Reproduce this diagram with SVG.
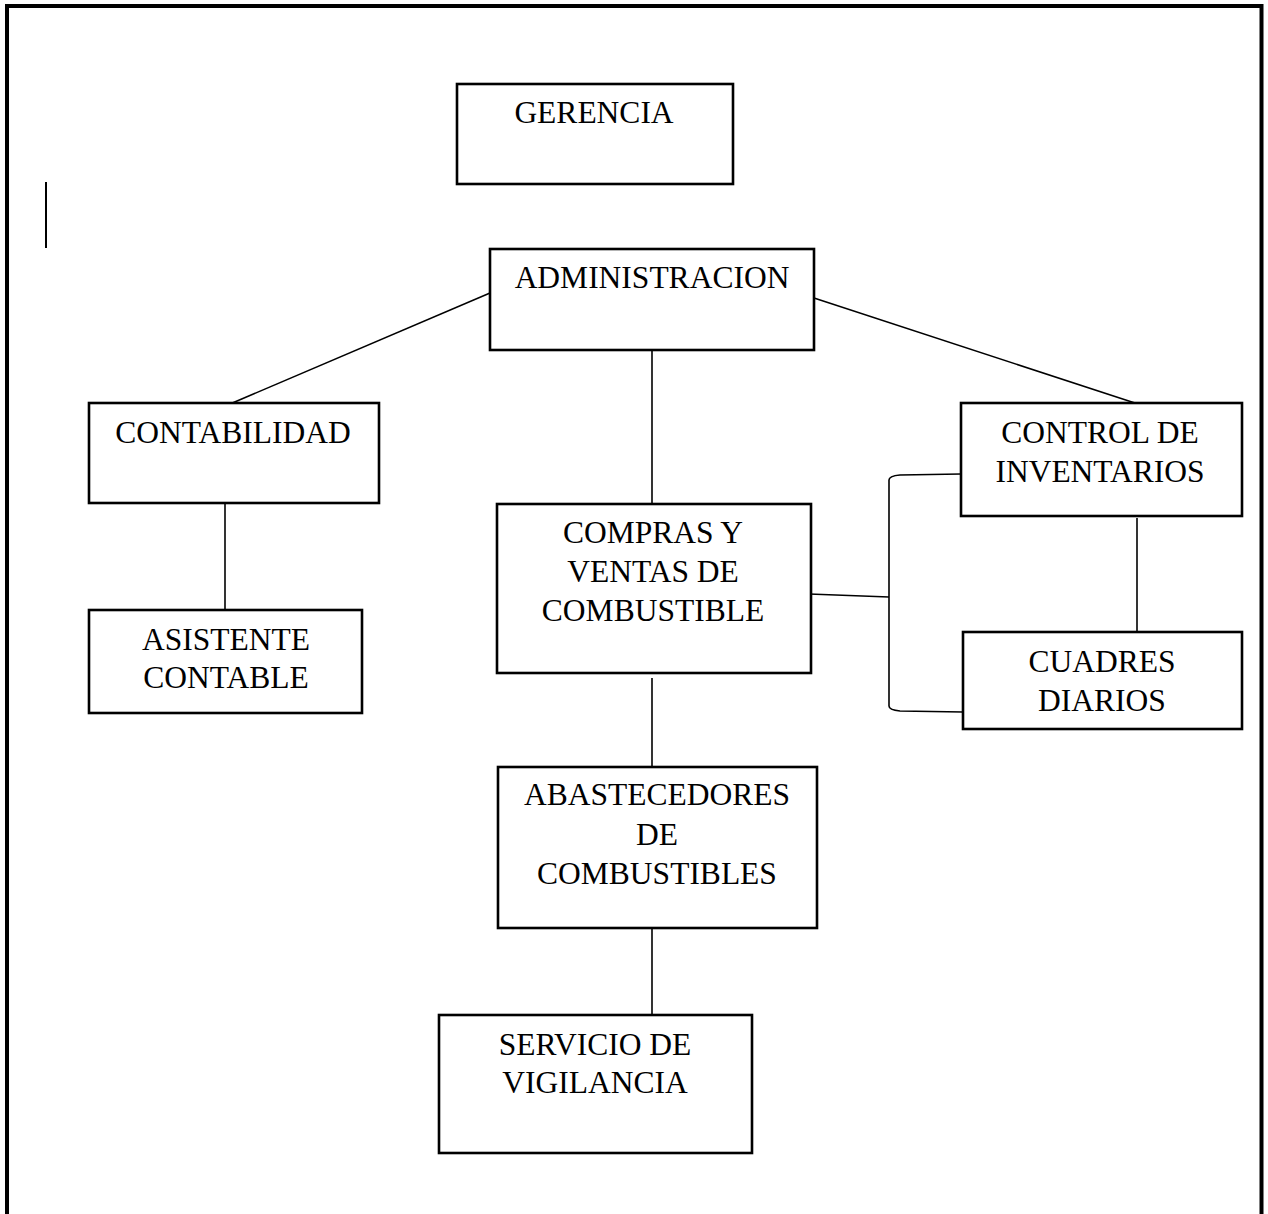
<svg xmlns="http://www.w3.org/2000/svg" width="1268" height="1214" viewBox="0 0 1268 1214">
<style>
.box{fill:#fff;stroke:#000;stroke-width:2.6}
.t{font-family:"Liberation Serif","Times New Roman",serif;font-size:31.5px;fill:#000;text-anchor:middle}
.c{fill:none;stroke:#000;stroke-width:1.6}
</style>
<rect x="0" y="0" width="1268" height="1214" fill="#fff"/>
<rect x="7" y="6" width="1254.5" height="1260" fill="none" stroke="#000" stroke-width="4"/>
<line x1="46" y1="182" x2="46" y2="248" stroke="#000" stroke-width="2"/>
<g id="connectors">
<line class="c" x1="490" y1="293" x2="230" y2="404"/>
<line class="c" x1="814" y1="298" x2="1138" y2="404"/>
<line class="c" x1="652" y1="348" x2="652" y2="507"/>
<line class="c" x1="225" y1="503" x2="225" y2="611"/>
<line class="c" x1="652" y1="678" x2="652" y2="768"/>
<line class="c" x1="652" y1="925" x2="652" y2="1022"/>
<line class="c" x1="1137" y1="518" x2="1137" y2="632"/>
<path class="c" d="M809 594 L889 597"/>
<path class="c" d="M961 474 L900 475 Q889 476 889 480 L889 706 Q889 710 900 711 L963 712"/>
</g>
<g id="gerencia">
<rect class="box" x="457" y="84" width="276" height="100"/>
<text class="t" x="594" y="123">GERENCIA</text>
</g>
<g id="administracion">
<rect class="box" x="490" y="249" width="324" height="101"/>
<text class="t" x="652" y="288">ADMINISTRACION</text>
</g>
<g id="contabilidad">
<rect class="box" x="89" y="403" width="290" height="100"/>
<text class="t" x="233" y="443">CONTABILIDAD</text>
</g>
<g id="asistente">
<rect class="box" x="89" y="610" width="273" height="103"/>
<text class="t" x="226" y="650">ASISTENTE</text>
<text class="t" x="226" y="688">CONTABLE</text>
</g>
<g id="compras">
<rect class="box" x="497" y="504" width="314" height="169"/>
<text class="t" x="653" y="543">COMPRAS Y</text>
<text class="t" x="653" y="582">VENTAS DE</text>
<text class="t" x="653" y="621">COMBUSTIBLE</text>
</g>
<g id="control">
<rect class="box" x="961" y="403" width="281" height="113"/>
<text class="t" x="1100" y="443">CONTROL DE</text>
<text class="t" x="1100" y="482">INVENTARIOS</text>
</g>
<g id="cuadres">
<rect class="box" x="963" y="632" width="279" height="97"/>
<text class="t" x="1102" y="672">CUADRES</text>
<text class="t" x="1102" y="711">DIARIOS</text>
</g>
<g id="abastecedores">
<rect class="box" x="498" y="767" width="319" height="161"/>
<text class="t" x="657" y="805">ABASTECEDORES</text>
<text class="t" x="657" y="845">DE</text>
<text class="t" x="657" y="884">COMBUSTIBLES</text>
</g>
<g id="servicio">
<rect class="box" x="439" y="1015" width="313" height="138"/>
<text class="t" x="595" y="1055">SERVICIO DE</text>
<text class="t" x="595" y="1093">VIGILANCIA</text>
</g>
</svg>
